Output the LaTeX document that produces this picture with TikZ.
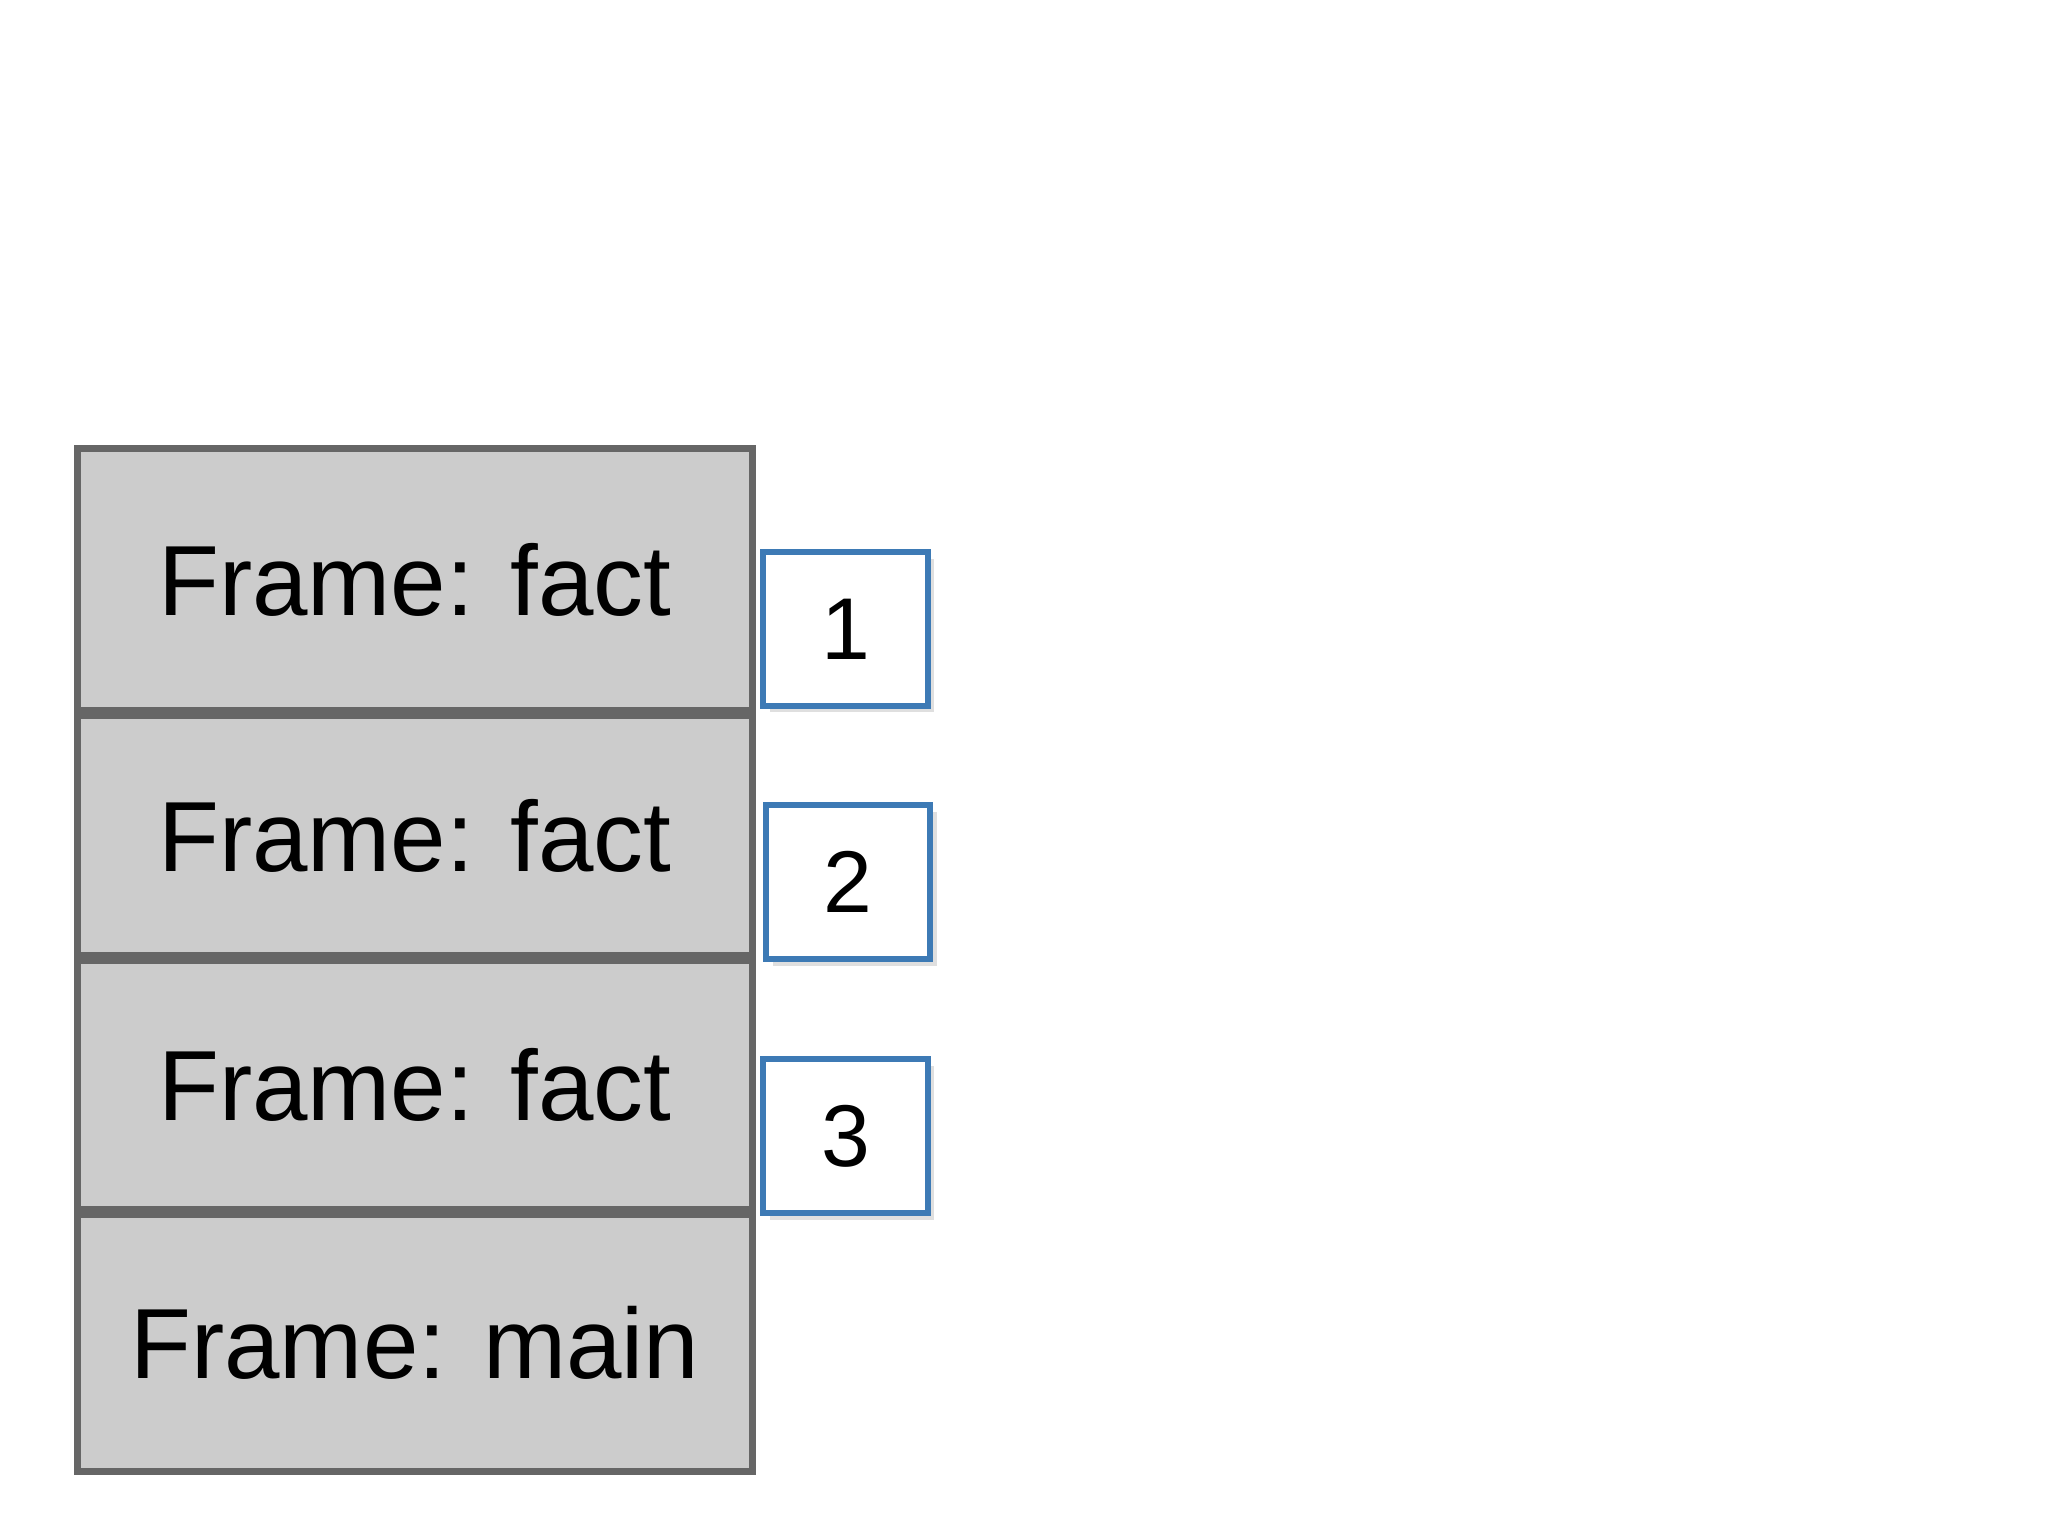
\documentclass[tikz,border=0pt]{standalone}
\usepackage{fontspec}
\setmainfont{Liberation Sans}
\usetikzlibrary{shadows}
\definecolor{framefill}{HTML}{CCCCCC}
\definecolor{frameline}{HTML}{666666}
\definecolor{numline}{HTML}{3D7AB5}
\tikzset{
 frame/.style={draw=frameline,fill=framefill,line width=1.5pt,minimum width=5.14cm,inner sep=0pt,font=\fontsize{21.6}{26}\selectfont},
 numbox/.style={draw=numline,fill=white,line width=1.3pt,minimum width=1.25cm,minimum height=1.17cm,inner sep=0pt,font=\fontsize{19}{23}\selectfont,drop shadow={opacity=0.25,shadow xshift=0.05cm,shadow yshift=-0.05cm}}
}
\begin{document}
\begin{tikzpicture}[x=0.01cm,y=-0.01cm]
\useasboundingbox[fill=white] (0,0) rectangle (1560,1170);
\node[frame,minimum height=1.99cm] (f1) at (316,441.5) {Frame: fact};
\node[frame,minimum height=1.83cm] (f2) at (316,636.5) {Frame: fact};
\node[frame,minimum height=1.89cm] (f3) at (316,826.5) {Frame: fact};
\node[frame,minimum height=1.96cm] (fm) at (316,1023) {Frame: main};
\node[numbox] (n1) at (644,479) {1};
\node[numbox] (n2) at (646,672) {2};
\node[numbox] (n3) at (644,865.5) {3};
\end{tikzpicture}
\end{document}
